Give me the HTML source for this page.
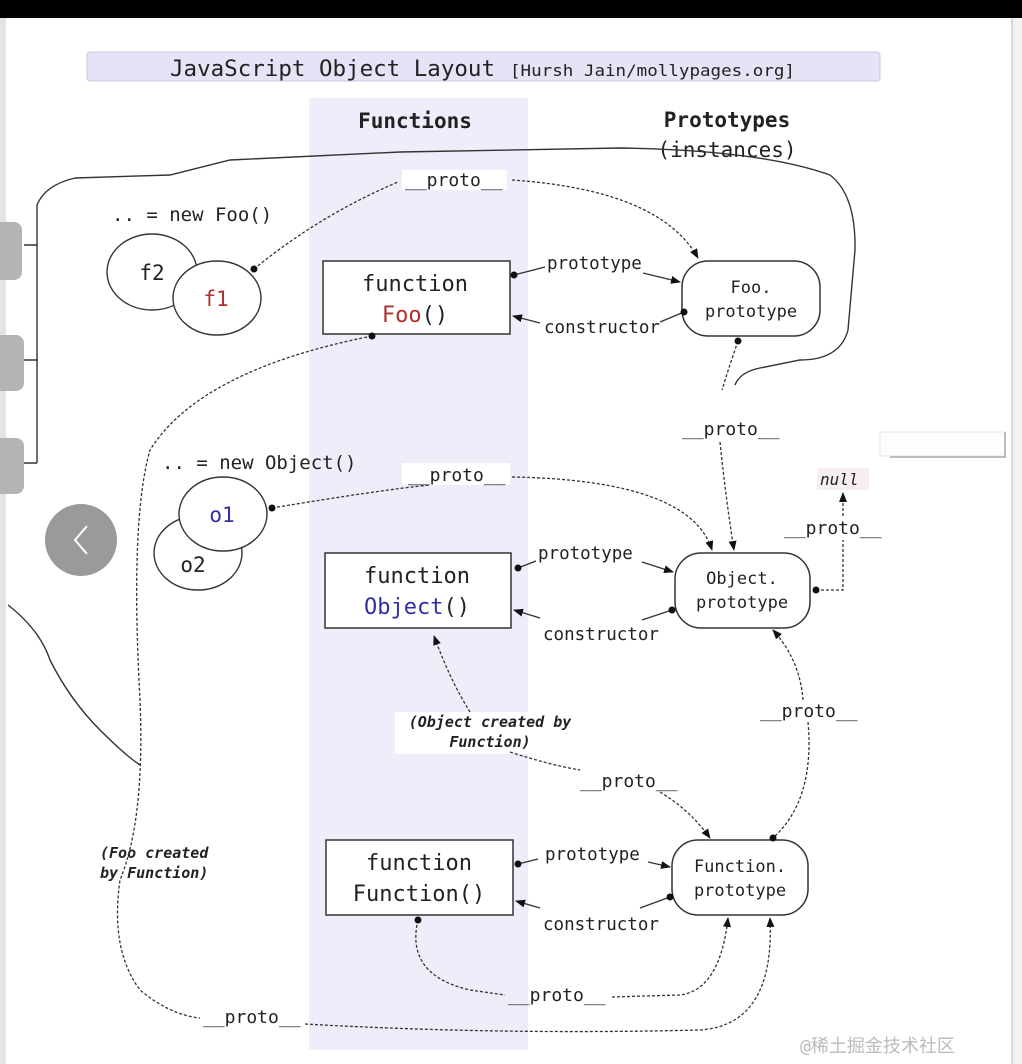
<!DOCTYPE html>
<html><head><meta charset="utf-8"><style>
html,body{margin:0;padding:0;background:#fff;}
svg{display:block}
text{font-family:"DejaVu Sans Mono","Liberation Mono",monospace;fill:#222}
.d{fill:none;stroke:#333;stroke-width:1.3;stroke-dasharray:3,2}
.s{fill:none;stroke:#333;stroke-width:1.4}
</style></head><body>
<svg width="1022" height="1064" viewBox="0 0 1022 1064" xmlns="http://www.w3.org/2000/svg">
<defs>
<marker id="a" markerWidth="10" markerHeight="8" refX="9" refY="4" orient="auto" markerUnits="userSpaceOnUse"><path d="M0,0 L10,4 L0,8 z" fill="#111"/></marker>
<marker id="o" markerWidth="8" markerHeight="8" refX="4" refY="4" markerUnits="userSpaceOnUse"><circle cx="4" cy="4" r="3.5" fill="#111"/></marker>
</defs>
<rect x="0" y="0" width="1022" height="18" fill="#000"/>
<rect x="0" y="18" width="6" height="1046" fill="#e4e4e4"/>
<rect x="1012" y="18" width="10" height="1046" fill="#f2f2f2"/>
<line x1="1012" y1="18" x2="1012" y2="1064" stroke="#bbb"/>
<!-- title -->
<rect x="87" y="52" width="793" height="29" rx="3" fill="#e4e4f6" stroke="#c8c8e6"/>
<text x="170" y="76" font-size="22" textLength="325" lengthAdjust="spacingAndGlyphs">JavaScript Object Layout</text>
<text x="510" y="76" font-size="16" textLength="285" lengthAdjust="spacingAndGlyphs">[Hursh Jain/mollypages.org]</text>
<!-- functions column -->
<rect x="309" y="98" width="219" height="952" fill="#eeeefa"/>
<text x="415" y="128" font-size="21" font-weight="bold" text-anchor="middle">Functions</text>
<text x="727" y="127" font-size="21" font-weight="bold" text-anchor="middle">Prototypes</text>
<text x="727" y="157" font-size="21" text-anchor="middle">(instances)</text>
<!-- left tabs -->
<rect x="-10" y="222" width="32" height="58" rx="8" fill="#b4b4b4"/>
<rect x="-10" y="335" width="34" height="56" rx="8" fill="#b4b4b4"/>
<rect x="-10" y="438" width="34" height="56" rx="8" fill="#b4b4b4"/>
<path class="s" d="M24,245 H37 M24,360 H38 M24,463 H37 M37,463 V205 Q45,185 75,178 L170,175 L230,160 L400,152 L620,148 Q760,150 830,175 Q856,195 855,250 L848,330 Q840,360 800,360 L760,368 Q740,372 735,385"/>
<!-- arrow circle -->
<circle cx="81" cy="540" r="36" fill="#9a9a9a"/>
<path d="M87,526 L75,540 L87,554" fill="none" stroke="#fff" stroke-width="2"/>
<path class="s" d="M8,605 Q40,630 50,660 Q70,700 100,730 Q125,755 140,765" stroke-width="1"/>
<!-- ellipses -->
<text x="112" y="221" font-size="19">.. = new Foo()</text>
<ellipse cx="152" cy="272" rx="45" ry="38" fill="#fff" stroke="#333" stroke-width="1.4"/>
<text x="152" y="280" font-size="21" text-anchor="middle">f2</text>
<ellipse cx="217" cy="298" rx="44" ry="37" fill="#fff" stroke="#333" stroke-width="1.4"/>
<text x="216" y="306" font-size="21" text-anchor="middle" style="fill:#b03030">f1</text>
<text x="162" y="469" font-size="19">.. = new Object()</text>
<ellipse cx="198" cy="553" rx="44" ry="37" fill="#fff" stroke="#333" stroke-width="1.4"/>
<text x="193" y="572" font-size="21" text-anchor="middle">o2</text>
<ellipse cx="223" cy="514" rx="44" ry="37" fill="#fff" stroke="#333" stroke-width="1.4"/>
<text x="222" y="522" font-size="21" text-anchor="middle" style="fill:#3030a0">o1</text>
<!-- boxes -->
<rect x="323" y="261" width="187" height="73" fill="#fff" stroke="#333" stroke-width="1.5"/>
<text x="415" y="291" font-size="22" text-anchor="middle">function</text>
<text x="415" y="322" font-size="22" text-anchor="middle"><tspan style="fill:#b03030">Foo</tspan>()</text>
<rect x="325" y="553" width="186" height="75" fill="#fff" stroke="#333" stroke-width="1.5"/>
<text x="417" y="583" font-size="22" text-anchor="middle">function</text>
<text x="417" y="614" font-size="22" text-anchor="middle"><tspan style="fill:#3030a0">Object</tspan>()</text>
<rect x="326" y="840" width="187" height="75" fill="#fff" stroke="#333" stroke-width="1.5"/>
<text x="419" y="870" font-size="22" text-anchor="middle">function</text>
<text x="419" y="901" font-size="22" text-anchor="middle">Function()</text>
<!-- prototype boxes -->
<rect x="682" y="261" width="138" height="75" rx="26" fill="#fff" stroke="#333" stroke-width="1.5"/>
<text x="751" y="293" font-size="17" text-anchor="middle">Foo.</text>
<text x="751" y="317" font-size="17" text-anchor="middle">prototype</text>
<rect x="675" y="553" width="135" height="75" rx="26" fill="#fff" stroke="#333" stroke-width="1.5"/>
<text x="742" y="584" font-size="17" text-anchor="middle">Object.</text>
<text x="742" y="608" font-size="17" text-anchor="middle">prototype</text>
<rect x="672" y="840" width="136" height="75" rx="26" fill="#fff" stroke="#333" stroke-width="1.5"/>
<text x="740" y="872" font-size="17" text-anchor="middle">Function.</text>
<text x="740" y="896" font-size="17" text-anchor="middle">prototype</text>
<!-- prototype/constructor arrows -->
<g font-size="17.5">
<path class="s" d="M514,275 L545,267" marker-start="url(#o)"/><text x="547" y="269">prototype</text><path class="s" d="M643,273 L680,282" marker-end="url(#a)"/>
<path class="s" d="M540,323 L513,316" marker-end="url(#a)"/><text x="544" y="333">constructor</text><path class="s" d="M660,322 L684,312" marker-end="url(#o)"/>
<path class="s" d="M518,568 L536,561" marker-start="url(#o)"/><text x="538" y="559">prototype</text><path class="s" d="M642,562 L673,572" marker-end="url(#a)"/>
<path class="s" d="M540,618 L514,610" marker-end="url(#a)"/><text x="543" y="640">constructor</text><path class="s" d="M642,620 L672,610" marker-end="url(#o)"/>
<path class="s" d="M518,864 L538,859" marker-start="url(#o)"/><text x="545" y="860">prototype</text><path class="s" d="M648,862 L670,867" marker-end="url(#a)"/>
<path class="s" d="M540,908 L516,901" marker-end="url(#a)"/><text x="543" y="930">constructor</text><path class="s" d="M640,908 L670,897" marker-end="url(#o)"/>
</g>
<!-- proto connectors -->
<g font-size="18">
<rect x="402" y="170" width="105" height="20" fill="#fff"/><text x="405" y="186">__proto__</text>
<path class="d" d="M254,269 Q320,215 398,182" marker-start="url(#o)"/>
<path class="d" d="M512,180 Q660,190 698,258" marker-end="url(#a)"/>
<rect x="402" y="463" width="108" height="22" fill="#fff"/><text x="408" y="481">__proto__</text>
<path class="d" d="M272,508 Q380,490 430,485" marker-start="url(#o)"/>
<path class="d" d="M512,477 Q690,480 712,550" marker-end="url(#a)"/>
<text x="682" y="435">__proto__</text>
<path class="d" d="M738,341 Q728,370 722,390" marker-start="url(#o)"/>
<path class="d" d="M720,442 Q726,500 734,550" marker-end="url(#a)"/>
<rect x="817" y="468" width="52" height="22" fill="#f7eef2"/>
<text x="820" y="485" font-size="16" font-style="italic">null</text>
<text x="784" y="534">__proto__</text>
<path class="d" d="M816,590 L843,590 L843,540" marker-start="url(#o)"/>
<path class="d" d="M843,516 L843,493" marker-end="url(#a)"/>
<text x="760" y="717">__proto__</text>
<path class="d" d="M803,700 Q800,660 773,630" marker-end="url(#a)"/>
<path class="d" d="M808,722 Q815,800 773,838" marker-end="url(#o)"/>
<rect x="395" y="712" width="190" height="42" fill="#fff"/>
<text x="490" y="727" font-size="15" font-style="italic" font-weight="bold" text-anchor="middle">(Object created by</text>
<text x="490" y="747" font-size="15" font-style="italic" font-weight="bold" text-anchor="middle">Function)</text>
<path class="d" d="M470,712 Q450,680 434,636" marker-end="url(#a)"/>
<path class="d" d="M510,752 Q550,765 580,770"/>
<text x="580" y="787">__proto__</text>
<path class="d" d="M660,792 Q690,810 710,838" marker-end="url(#a)"/>
<text x="100" y="858" font-size="15" font-style="italic" font-weight="bold">(Foo created</text>
<text x="100" y="878" font-size="15" font-style="italic" font-weight="bold">by Function)</text>
<path class="d" d="M372,336 Q200,370 150,450 Q130,520 140,700 Q145,820 120,880 Q110,950 140,990 Q170,1015 200,1018" marker-start="url(#o)"/>
<text x="203" y="1023">__proto__</text>
<path class="d" d="M305,1024 Q500,1035 700,1030 Q775,1025 770,918" marker-end="url(#a)"/>
<path class="d" d="M418,920 Q405,975 470,990 L505,995" marker-start="url(#o)"/>
<text x="508" y="1001">__proto__</text>
<path class="d" d="M612,997 L680,995 Q720,990 728,918" marker-end="url(#a)"/>
</g>
<rect x="880" y="432" width="125" height="24" fill="#fdfdfd" stroke="#e6e6e6"/>
<path d="M890,457 H1005 V432" fill="none" stroke="#bbb" stroke-width="2"/>
<text x="800" y="1052" font-size="18" style="fill:#bbb" font-family="Liberation Sans,'Noto Sans CJK SC',sans-serif">@稀土掘金技术社区</text>
</svg>
</body></html>
